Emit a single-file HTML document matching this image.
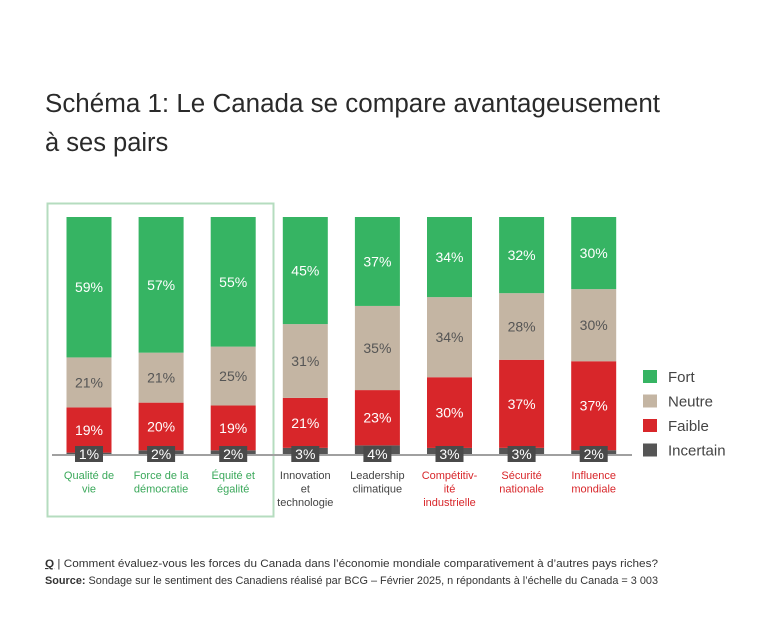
<!DOCTYPE html>
<html><head><meta charset="utf-8"><style>
body{margin:0;background:#fff;}
svg{display:block;font-family:"Liberation Sans",sans-serif;}
</style></head><body>
<svg id="chart" width="768" height="627" viewBox="0 0 768 627">
<text x="45" y="112" font-size="25.5" fill="#2a2a2a" textLength="615" lengthAdjust="spacingAndGlyphs">Schéma 1: Le Canada se compare avantageusement</text>
<text x="45" y="151" font-size="25.5" fill="#2a2a2a">à ses pairs</text>
<rect x="47.5" y="203.5" width="226" height="313" fill="none" stroke="#b5dcbf" stroke-width="2"/>
<g id="bars"></g>
<line x1="52" y1="455" x2="632" y2="455" stroke="#a0a0a0" stroke-width="2"/>
<g id="labels"></g>
<g id="legend"></g>
<text x="45" y="567" font-size="11" fill="#333" textLength="613" lengthAdjust="spacingAndGlyphs"><tspan font-weight="bold" text-decoration="underline">Q</tspan> | Comment évaluez-vous les forces du Canada dans l’économie mondiale comparativement à d’autres pays riches?</text>
<text x="45" y="584" font-size="11" fill="#333" textLength="613" lengthAdjust="spacingAndGlyphs"><tspan font-weight="bold">Source:</tspan> Sondage sur le sentiment des Canadiens réalisé par BCG – Février 2025, n répondants à l’échelle du Canada = 3 003</text>
</svg>
<script>
const categories = [["Qualité de","vie"],["Force de la","démocratie"],["Équité et","égalité"],["Innovation","et","technologie"],["Leadership","climatique"],["Compétitiv-","ité","industrielle"],["Sécurité","nationale"],["Influence","mondiale"]];
const categoryColors = ["#3aa85a","#3aa85a","#3aa85a","#444","#444","#d8262a","#d8262a","#d8262a"];
const fort = [59,57,55,45,37,34,32,30];
const neutre = [21,21,25,31,35,34,28,30];
const faible = [19,20,19,21,23,30,37,37];
const incertain = [1,2,2,3,4,3,3,2];
const seriesNames = ["Incertain","Faible","Neutre","Fort"];
const seriesColors = ["#555555","#d8262a","#c4b5a3","#36b463"];
const ns="http://www.w3.org/2000/svg";
const base=455, fullH=238, x0=89, step=72.1, bw=45;
const xPos=i=>x0+i*step;
function mk(tag,attrs,parent){const e=document.createElementNS(ns,tag);for(const k in attrs)e.setAttribute(k,attrs[k]);parent.appendChild(e);return e;}
const gb=document.getElementById('bars'), gl=document.getElementById('labels'), lg=document.getElementById('legend');
const series=[incertain,faible,neutre,fort];
categories.forEach((cat,i)=>{
  let y=base; const cx=xPos(i);
  const total=series.reduce((a,arr)=>a+arr[i],0);
  series.forEach((arr,s)=>{
    const h=arr[i]/total*fullH; y-=h;
    const r=mk('rect',{x:cx-bw/2,y:y,width:bw,height:h,fill:seriesColors[s]},gb);
    
    
    if(s>0){
      const t=mk('text',{x:cx,y:y+h/2+5,'font-size':14,'text-anchor':'middle',fill:s==2?'#555':'#fff'},gb);
      t.textContent=arr[i]+'%';
      
      
    }
  });
  const bx=mk('rect',{x:cx-14,y:446,width:28,height:16,fill:'#4a4a4a'},gl);
  
  
  const t=mk('text',{x:cx,y:459,'font-size':14,'text-anchor':'middle',fill:'#fff'},gl);
  t.textContent=incertain[i]+'%';
  
  
  cat.forEach((line,j)=>{
    const c=mk('text',{x:cx,y:479+j*13.5,'font-size':11,'text-anchor':'middle',fill:categoryColors[i]},gl);
    c.textContent=line;
    
    
  });
});
[3,2,1,0].forEach((s,k)=>{
  const y=370+k*24.5;
  const r=mk('rect',{x:643,y:y,width:14,height:13,fill:seriesColors[s]},lg);
  
  
  const t=mk('text',{x:668,y:y+12,'font-size':15,fill:'#444'},lg);
  t.textContent=seriesNames[s];
  
  
});
</script>
</body></html>
